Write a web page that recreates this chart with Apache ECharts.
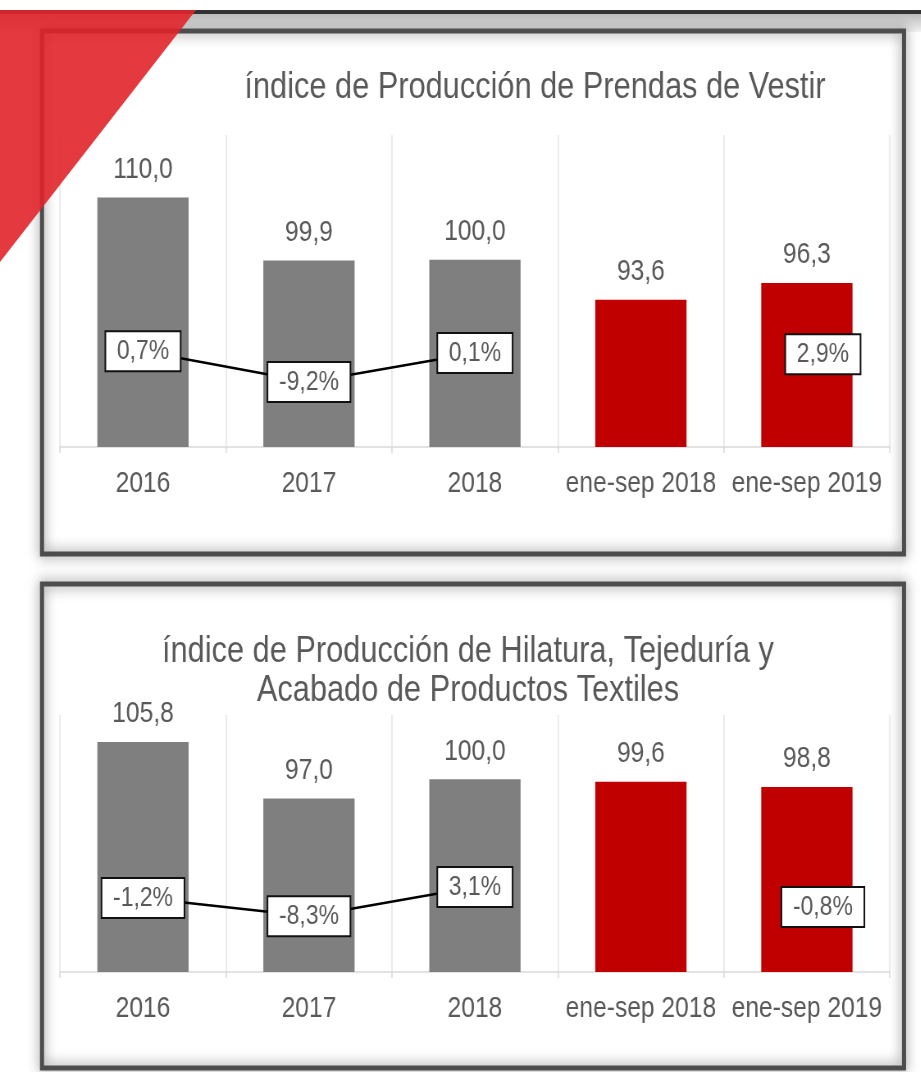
<!DOCTYPE html>
<html>
<head>
<meta charset="utf-8">
<script src="https://cdn.jsdelivr.net/npm/echarts@6/dist/echarts.min.js"></script>
<style>
html,body{margin:0;padding:0;background:#fff;overflow:hidden;width:921px;height:1072px;}
#c{width:1123px;height:1072px;transform:scaleX(0.82);transform-origin:0 0;}
</style>
</head>
<body>
<div id="c"></div>
<script>
// ---- data ----
const categories = ['2016', '2017', '2018', 'ene-sep 2018', 'ene-sep 2019'];
const prendasIndex = [110.0, 99.9, 100.0, 93.6, 96.3];
const prendasGrowth = [0.7, -9.2, 0.1, null, 2.9];
const textilIndex = [105.8, 97.0, 100.0, 99.6, 98.8];
const textilGrowth = [-1.2, -8.3, 3.1, null, -0.8];
const titleTop = 'índice de Producción de Prendas de Vestir';
const titleBottom = 'índice de Producción de Hilatura, Tejeduría y\nAcabado de Productos Textiles';

// ---- styling ----
// The page is drawn in a wider canvas and condensed horizontally (Arial-Narrow look).
const S = 0.82;
const X = px => px / S;
const FONT = "'Liberation Sans', Arial, sans-serif";
const TXT = '#595959';
const GRAY = '#7f7f7f';
const RED = '#c00000';
const fmt = v => v.toFixed(1).replace('.', ',');

function barData(vals) {
  return vals.map((v, i) => ({ value: v, itemStyle: { color: i < 3 ? GRAY : RED } }));
}
function lineData(vals) {
  return vals.map((v, i) => (v === null ? null :
    (i === 4 ? { value: v, label: { offset: [X(16), 10] } } : v)));
}
function xAxis(gi) {
  return {
    type: 'category', gridIndex: gi, data: categories,
    axisLine: { onZero: false, lineStyle: { color: '#d9d9d9', width: 1.5 } },
    axisTick: { show: true, length: 6, lineStyle: { color: '#d9d9d9', width: 1.5 } },
    axisLabel: { interval: 0, fontSize: 30, color: TXT, fontFamily: FONT, margin: 22 },
    splitLine: { show: true, lineStyle: { color: '#e4e4e4', width: 1.5 } }
  };
}
function yAxis(gi, min, max) {
  return { type: 'value', gridIndex: gi, min: min, max: max, show: false, splitLine: { show: false } };
}
function barSeries(gi, vals) {
  return {
    type: 'bar', xAxisIndex: gi, yAxisIndex: gi * 2, data: barData(vals), barWidth: '55%',
    label: { show: true, position: 'top', distance: 13, fontSize: 30, color: TXT, fontFamily: FONT,
      formatter: p => fmt(p.value) }
  };
}
function lineSeries(gi, vals) {
  return {
    type: 'line', xAxisIndex: gi, yAxisIndex: gi * 2 + 1, data: lineData(vals),
    connectNulls: false, symbol: 'circle', symbolSize: 2, showSymbol: true,
    itemStyle: { color: '#000' },
    lineStyle: { color: '#000', width: 2.5 },
    z: 5,
    label: { show: true, position: 'inside', fontSize: 28, color: TXT, fontFamily: FONT,
      backgroundColor: '#fff', borderColor: '#111', borderWidth: 2, padding: [6, 13, 4, 13],
      formatter: p => fmt(p.value) + '%' }
  };
}

const chart = echarts.init(document.getElementById('c'), null, { renderer: 'canvas' });
const frameStyle = { fill: null, stroke: '#4d4d4d', lineWidth: 5, shadowBlur: 14, shadowColor: 'rgba(0,0,0,0.55)' };
chart.setOption({
  backgroundColor: '#fff',
  animation: false,
  grid: [
    { left: X(60), right: X(31), top: 135, height: 312 },
    { left: X(60), right: X(31), top: 715, height: 257 }
  ],
  xAxis: [xAxis(0), xAxis(1)],
  yAxis: [yAxis(0, 70, 120), yAxis(0, -30, 70), yAxis(1, 70, 110), yAxis(1, -30, 70)],
  series: [
    barSeries(0, prendasIndex), lineSeries(0, prendasGrowth),
    barSeries(1, textilIndex), lineSeries(1, textilGrowth)
  ],
  graphic: [
    { type: 'rect', z: 1, shape: { x: 0, y: 14, width: X(921), height: 18 },
      style: { fill: new echarts.graphic.LinearGradient(0, 0, 0, 1, [
        { offset: 0, color: '#bdbdbd' }, { offset: 1, color: '#f2f2f2' }]) } },
    { type: 'rect', z: 2, shape: { x: 0, y: 10, width: X(921), height: 4 }, style: { fill: '#333' } },
    { type: 'rect', z: 2, shape: { x: X(42), y: 31, width: X(862), height: 523 }, style: frameStyle },
    { type: 'rect', z: 2, shape: { x: X(42), y: 584, width: X(862), height: 484 }, style: frameStyle },
    { type: 'text', z: 3, x: X(535), y: 88,
      style: { text: titleTop, fill: TXT, fontSize: 37.5, fontFamily: FONT, align: 'center', verticalAlign: 'middle' } },
    { type: 'text', z: 3, x: X(468), y: 671,
      style: { text: titleBottom, fill: TXT, fontSize: 37.5, lineHeight: 39, fontFamily: FONT, align: 'center', verticalAlign: 'middle' } },
    { type: 'polygon', z: 100, shape: { points: [[0, 10], [X(196), 10], [0, 262]] },
      style: { fill: '#e2242b', opacity: 0.9 } }
  ]
});
</script>
</body>
</html>
